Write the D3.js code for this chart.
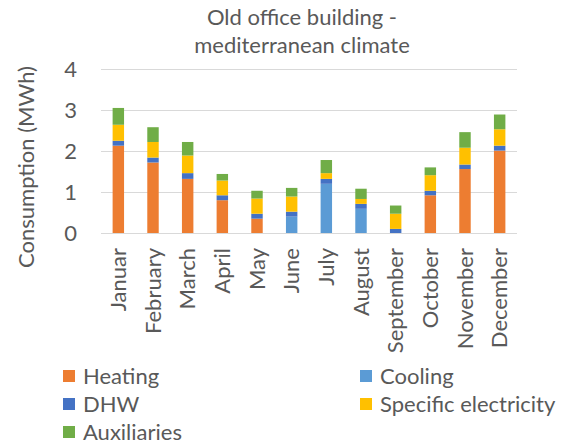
<!DOCTYPE html>
<html>
<head>
<meta charset="utf-8">
<script src="https://cdn.jsdelivr.net/npm/d3@7"></script>
<style>
  body { margin: 0; background: #fff; }
  svg text { font-family: Lato, "Liberation Sans", sans-serif; fill: #595959; }
</style>
</head>
<body>
<svg id="chart" width="568" height="444"></svg>
<script>
var width = 568,
  height = 444;

// values (MWh)
const months = ["Januar", "February", "March", "April", "May", "June", "July",
  "August", "September", "October", "November", "December"];
const heating = [2.13, 1.72, 1.32, 0.80, 0.35, 0, 0, 0, 0, 0.92, 1.56, 2.01];
const cooling = [0, 0, 0, 0, 0, 0.40, 1.20, 0.59, 0, 0, 0, 0];
const dhw = [0.12, 0.12, 0.14, 0.12, 0.12, 0.12, 0.12, 0.12, 0.10, 0.11, 0.11, 0.12];
const specific = [0.39, 0.38, 0.43, 0.36, 0.37, 0.37, 0.14, 0.12, 0.37, 0.38, 0.41, 0.40];
const auxiliaries = [0.41, 0.36, 0.33, 0.16, 0.19, 0.21, 0.32, 0.25, 0.20, 0.19, 0.38, 0.36];
const yTicks = [0, 1, 2, 3, 4];

const seriesNames = ["Heating", "Cooling", "DHW", "Specific electricity", "Auxiliaries"];
const seriesColours = ["#ED7D31", "#5B9BD5", "#4472C4", "#FFC000", "#70AD47"];

const rows = months.map((m, i) => ({
  month: m,
  "Heating": heating[i],
  "Cooling": cooling[i],
  "DHW": dhw[i],
  "Specific electricity": specific[i],
  "Auxiliaries": auxiliaries[i]
}));

const margin = { left: 101, right: 51, top: 69, bottom: 211 };
const plotW = width - margin.left - margin.right;
const plotH = height - margin.top - margin.bottom;
const fontSize = 22;

const svg = d3.select("#chart");

const x = d3.scaleBand()
  .domain(months)
  .range([margin.left, margin.left + plotW])
  .paddingInner(0.67)
  .paddingOuter(0.335);

const y = d3.scaleLinear()
  .domain([0, 4])
  .range([margin.top + plotH, margin.top]);

const colour = d3.scaleOrdinal().domain(seriesNames).range(seriesColours);

// gridlines
svg.append("g")
  .selectAll("line")
  .data(yTicks)
  .join("line")
  .attr("x1", margin.left)
  .attr("x2", margin.left + plotW)
  .attr("y1", (d) => Math.round(y(d)) + 0.5)
  .attr("y2", (d) => Math.round(y(d)) + 0.5)
  .attr("stroke", "#D9D9D9")
  .attr("stroke-width", 1);

// stacked bars
const stacked = d3.stack().keys(seriesNames)(rows);

svg.append("g")
  .selectAll("g")
  .data(stacked)
  .join("g")
  .attr("fill", (s) => colour(s.key))
  .selectAll("rect")
  .data((s) => s)
  .join("rect")
  .attr("x", (d) => x(d.data.month))
  .attr("width", x.bandwidth())
  .attr("y", (d) => y(d[1]))
  .attr("height", (d) => y(d[0]) - y(d[1]));

// y axis
const yAxis = svg.append("g")
  .attr("transform", `translate(${margin.left - 24},0)`)
  .call(d3.axisLeft(y).tickValues(yTicks).tickSize(0).tickPadding(0).tickFormat(d3.format("d")));
yAxis.select(".domain").remove();
yAxis.selectAll("text")
  .attr("font-size", fontSize)
  .attr("dy", "0.35em")
  .style("font-family", "Lato, sans-serif")
  .style("fill", "#595959");

// x axis, labels rotated
const xAxis = svg.append("g")
  .attr("transform", `translate(0,${margin.top + plotH + 15})`)
  .call(d3.axisBottom(x).tickSize(0).tickPadding(0));
xAxis.select(".domain").remove();
xAxis.selectAll("text")
  .attr("font-size", fontSize)
  .attr("text-anchor", "end")
  .attr("transform", "rotate(-90)")
  .attr("x", 0)
  .attr("y", 0)
  .attr("dy", "0.35em")
  .style("font-family", "Lato, sans-serif")
  .style("fill", "#595959");

// axis title
svg.append("text")
  .attr("transform", "translate(26,167) rotate(-90)")
  .attr("text-anchor", "middle")
  .attr("dy", "0.35em")
  .attr("font-size", fontSize)
  .text("Consumption (MWh)");

// chart title
const title = svg.append("text")
  .attr("text-anchor", "middle")
  .attr("font-size", fontSize);
title.append("tspan").attr("x", 302).attr("y", 25).text("Old office building -");
title.append("tspan").attr("x", 302).attr("y", 53).text("mediterranean climate");

// legend, two columns
const legendCols = [63, 360];
const legendRows = [376, 404, 432];
const legend = svg.append("g")
  .selectAll("g")
  .data(seriesNames)
  .join("g")
  .attr("transform", (d, i) => `translate(${legendCols[i % 2]},${legendRows[Math.floor(i / 2)]})`);

legend.append("rect")
  .attr("x", 0)
  .attr("y", -6)
  .attr("width", 12)
  .attr("height", 12)
  .attr("fill", (d) => colour(d));

legend.append("text")
  .attr("x", 20)
  .attr("dy", "0.35em")
  .attr("font-size", fontSize)
  .text((d) => d);
</script>
</body>
</html>
